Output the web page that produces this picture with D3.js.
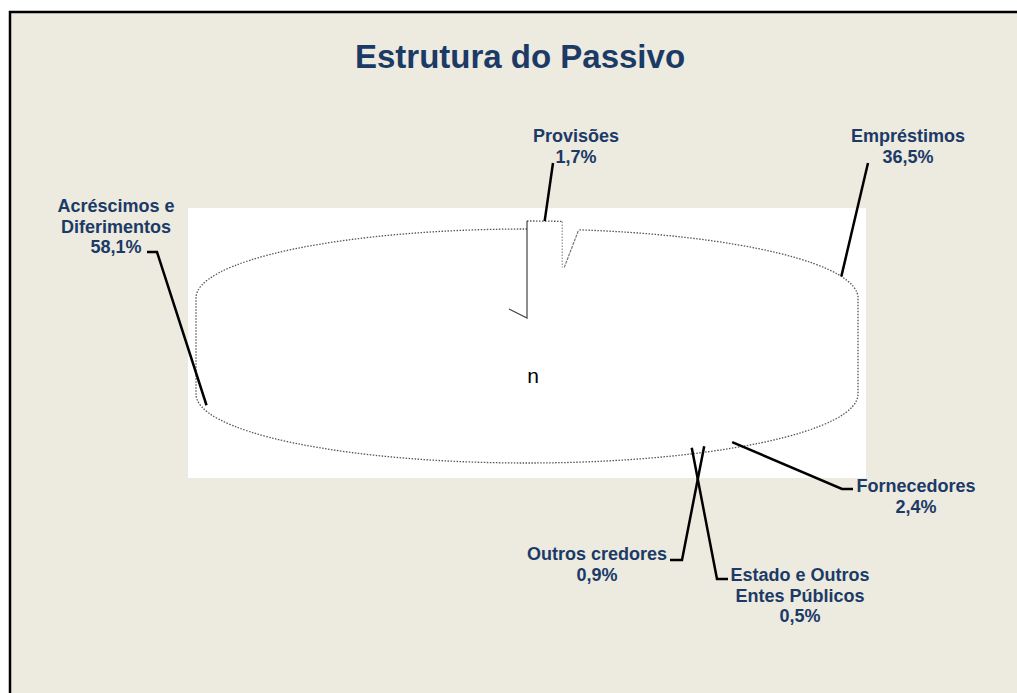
<!DOCTYPE html>
<html lang="pt">
  <head>
    <meta charset="utf-8">
    <title>Estrutura do Passivo</title>
    <style>
      body { margin: 0; background: #fff; }
      text { font-family: "Liberation Sans", Arial, sans-serif; }
    </style>
  </head>
  <body>
    <div class="chart"></div>

    <script src="https://cdn.jsdelivr.net/npm/d3@7"></script>
    <script type="text/javascript">
      // data
      var categories = ["Provisões", "Empréstimos", "Fornecedores", "Outros credores",
                        "Estado e Outros Entes Públicos", "Acréscimos e Diferimentos"];
      var values = [1.7, 36.5, 2.4, 0.9, 0.5, 58.1];
      var valueLabels = ["1,7%", "36,5%", "2,4%", "0,9%", "0,5%", "58,1%"];
      var labelLines = [["Provisões"], ["Empréstimos"], ["Fornecedores"], ["Outros credores"],
                        ["Estado e Outros", "Entes Públicos"], ["Acréscimos e", "Diferimentos"]];

      // label layout (text centre, first baseline, leader elbow points)
      var labelLayout = [
        {x: 576, y: 142, elbow: [[553, 163]]},
        {x: 908, y: 142, elbow: [[868, 163]]},
        {x: 916, y: 492, elbow: [[853, 489], [842, 489]]},
        {x: 597, y: 560, elbow: [[670, 560], [682, 560]]},
        {x: 800, y: 581, elbow: [[728, 579], [717, 579]]},
        {x: 116, y: 212, elbow: [[147, 252], [157, 252]]}
      ];

      var W = 1017, H = 693;
      var navy = "#1b3a66";

      var svg = d3.select(".chart")
        .append("svg")
          .attr("width", W)
          .attr("height", H);

      svg.append("rect")
          .attr("x", 10).attr("y", 12)
          .attr("width", W + 20).attr("height", H + 20)
          .attr("fill", "#edeae0")
          .attr("stroke", "#000")
          .attr("stroke-width", 2.5);

      svg.append("text")
          .attr("x", 520).attr("y", 68)
          .attr("text-anchor", "middle")
          .attr("font-size", 33)
          .attr("font-weight", "bold")
          .attr("fill", navy)
          .text("Estrutura do Passivo");

      // plot area
      svg.append("rect")
          .attr("x", 188).attr("y", 208)
          .attr("width", 678).attr("height", 270)
          .attr("fill", "#fff");

      // 3d pie geometry
      var cx = 527, cy = 298, rx = 331, ry = 69, depth = 96, lift = 8;

      var pie = d3.pie().sort(null).value(function(d) { return d; });
      var arcs = pie(values);

      function pt(a, dy) {
        return [cx + rx * Math.sin(a), cy + (dy || 0) - ry * Math.cos(a)];
      }

      // top face of each slice, flattened with a scale
      var g = svg.append("g");
      var arcGen = d3.arc().innerRadius(0).outerRadius(rx);
      g.selectAll("path.slice")
        .data(arcs)
        .enter().append("path")
          .attr("class", "slice")
          .attr("transform", function(d, i) {
            return "translate(" + cx + "," + (cy - (i === 0 ? lift : 0)) + ") scale(1," + (ry / rx) + ")";
          })
          .attr("d", arcGen)
          .attr("fill", "#fff");

      var dotted = {stroke: "#555", "stroke-width": 1.3, "stroke-dasharray": "1.5,1.5", fill: "none"};
      function applyStyle(sel, st) { for (var k in st) sel.attr(k, st[k]); return sel; }

      // silhouette: back rim of the top face, walls, front rim of the bottom face
      var gapEnd = arcs[0].endAngle + 0.05;
      var p0 = pt(0), pg = pt(gapEnd);
      var silPath = "M" + p0[0] + "," + p0[1] +
        " A" + rx + "," + ry + " 0 0 0 " + (cx - rx) + "," + cy +
        " L" + (cx - rx) + "," + (cy + depth) +
        " A" + rx + "," + ry + " 0 0 0 " + (cx + rx) + "," + (cy + depth) +
        " L" + (cx + rx) + "," + cy +
        " A" + rx + "," + ry + " 0 0 0 " + pg[0] + "," + pg[1];
      applyStyle(svg.append("path").attr("d", silPath), dotted);

      // exploded first slice (Provisões)
      var a0 = arcs[0];
      var ps = pt(a0.startAngle, -lift), pe = pt(a0.endAngle, -lift);
      applyStyle(svg.append("path")
          .attr("d", "M" + ps[0] + "," + ps[1] + " A" + rx + "," + ry + " 0 0 1 " + pe[0] + "," + pe[1]), dotted);
      svg.append("path")
          .attr("d", "M" + ps[0] + "," + ps[1] + " L" + cx + "," + (cy + 20) + " L" + (cx - 18) + "," + (cy + 11))
          .attr("fill", "none").attr("stroke", "#444").attr("stroke-width", 1.2);
      applyStyle(svg.append("path")
          .attr("d", "M" + pe[0] + "," + pe[1] + " L" + pe[0] + "," + (pe[1] + 46)), dotted)
          .attr("stroke", "#999");
      svg.append("path")
          .attr("d", "M" + (pe[0] + 2) + "," + (pe[1] + 46) + " L" + pg[0] + "," + pg[1])
          .attr("fill", "none").attr("stroke", "#777").attr("stroke-width", 1.2)
          .attr("stroke-dasharray", "3,1");

      svg.append("text")
          .attr("x", 533).attr("y", 383)
          .attr("text-anchor", "middle")
          .attr("font-size", 21)
          .attr("fill", "#000")
          .text("n");

      // leader lines
      function anchor(d) {
        var m = (d.startAngle + d.endAngle) / 2;
        var front = Math.cos(m) < 0;
        return pt(m, d.index === 0 ? -lift : (front ? 90 : 0));
      }

      svg.selectAll("path.leader")
        .data(arcs)
        .enter().append("path")
          .attr("class", "leader")
          .attr("d", function(d, i) {
            return d3.line()(labelLayout[i].elbow.concat([anchor(d)]));
          })
          .attr("fill", "none")
          .attr("stroke", "#000")
          .attr("stroke-width", 2.5);

      // labels
      var lab = svg.selectAll("text.label")
        .data(arcs)
        .enter().append("text")
          .attr("class", "label")
          .attr("text-anchor", "middle")
          .attr("font-size", 18)
          .attr("font-weight", "bold")
          .attr("fill", navy)
          .attr("x", function(d, i) { return labelLayout[i].x; })
          .attr("y", function(d, i) { return labelLayout[i].y; });

      lab.each(function(d, i) {
        var t = d3.select(this);
        labelLines[i].concat([valueLabels[i]]).forEach(function(s, j) {
          t.append("tspan")
            .attr("x", labelLayout[i].x)
            .attr("dy", j === 0 ? 0 : 20.5)
            .text(s);
        });
      });
    </script>
  </body>
</html>
